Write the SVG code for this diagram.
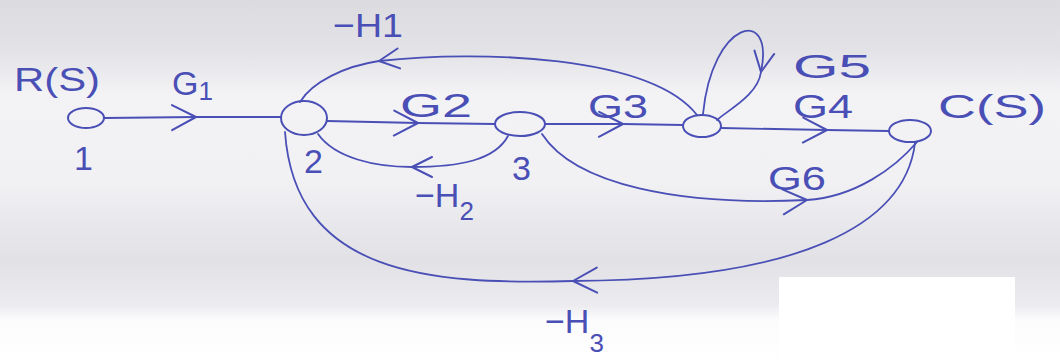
<svg xmlns="http://www.w3.org/2000/svg" width="1060" height="363" viewBox="0 0 1060 363">
  <defs>
    <linearGradient id="paper" x1="0" y1="0" x2="0" y2="1">
      <stop offset="0" stop-color="#dcdce0"/>
      <stop offset="0.14" stop-color="#e3e3e7"/>
      <stop offset="0.26" stop-color="#f3f3f6"/>
      <stop offset="0.5" stop-color="#f1f1f4"/>
      <stop offset="0.62" stop-color="#e8e8ec"/>
      <stop offset="0.72" stop-color="#e2e2e6"/>
      <stop offset="0.84" stop-color="#ececf0"/>
      <stop offset="0.88" stop-color="#fbfbfc"/>
      <stop offset="1" stop-color="#ffffff"/>
    </linearGradient>
    <marker id="chev" markerUnits="userSpaceOnUse" markerWidth="32" markerHeight="34" viewBox="-28 -17 32 34" refX="0" refY="0" orient="auto">
      <path d="M-24,-12 L0,0 L-24,13" fill="none" stroke="#4a4fb6" stroke-width="2" stroke-linecap="round" stroke-linejoin="round"/>
    </marker>
    <marker id="chevs" markerUnits="userSpaceOnUse" markerWidth="28" markerHeight="28" viewBox="-24 -14 28 28" refX="0" refY="0" orient="auto">
      <path d="M-20,-10 L0,0 L-20,10" fill="none" stroke="#4a4fb6" stroke-width="2" stroke-linecap="round" stroke-linejoin="round"/>
    </marker>
  </defs>
  <style>
    .node { fill: none; stroke: #4a4fb6; stroke-width: 2; }
    .edge { fill: none; stroke: #4a4fb6; stroke-width: 1.8; stroke-linecap: round; marker-mid: url(#chev); }
    .edge.small { marker-mid: url(#chevs); }
    .lbl { font-family: "Liberation Sans", Arial, sans-serif; fill: #4a4fb6; font-size: 34px; }
    .sub { font-size: 26px; }
  </style>

  <rect x="0" y="0" width="1060" height="363" fill="url(#paper)"/>
  <rect x="779" y="277" width="236" height="86" fill="#ffffff"/>

  <g id="connectors">
    <path id="e-G1" class="edge" d="M104,118 L196,117 L281,117"/>
    <path id="e-G2" class="edge" d="M327,121 L418,123 L495,124"/>
    <path id="e-G3" class="edge" d="M545,124 L623,124 L683,125"/>
    <path id="e-G4" class="edge" d="M721,128 L827,130 L889,131"/>
    <path id="e-H1" class="edge small" d="M697,115 C650,55 480,50 379,61 C345,66 312,82 300,102"/>
    <path id="e-H2" class="edge small" d="M508,136 C495,160 460,167 412,167 C375,167 335,158 318,134"/>
    <path id="e-G6" class="edge" d="M542,134 C575,185 680,206 807,200 C855,197 895,168 917,142"/>
    <path id="e-H3" class="edge" d="M915,143 C905,225 800,280 573,281 C430,285 295,275 285,132"/>
    <path id="e-G5" class="edge small" d="M703,114 C712,20 775,5 761,72 C758,95 728,110 717,120"/>
  </g>

  <g id="node1">
    <ellipse class="node" cx="86" cy="118" rx="18" ry="10"/>
    <text class="lbl" x="14" y="91" textLength="86" lengthAdjust="spacingAndGlyphs">R(S)</text>
    <text class="lbl" x="74" y="170">1</text>
  </g>
  <g id="node2">
    <ellipse class="node" cx="304" cy="118" rx="23" ry="17"/>
    <text class="lbl" x="304" y="173">2</text>
  </g>
  <g id="node3">
    <ellipse class="node" cx="520" cy="124" rx="25" ry="12"/>
    <text class="lbl" x="512" y="180">3</text>
  </g>
  <g id="node4">
    <ellipse class="node" cx="702" cy="126" rx="19" ry="11"/>
  </g>
  <g id="node5">
    <ellipse class="node" cx="910" cy="131" rx="21" ry="11"/>
    <text class="lbl" x="938" y="118" textLength="108" lengthAdjust="spacingAndGlyphs">C(S)</text>
  </g>

  <g id="labels">
    <text class="lbl" x="172" y="95">G<tspan class="sub" dy="5">1</tspan></text>
    <text class="lbl" x="400" y="117" textLength="72" lengthAdjust="spacingAndGlyphs">G2</text>
    <text class="lbl" x="588" y="118" textLength="60" lengthAdjust="spacingAndGlyphs">G3</text>
    <text class="lbl" x="793" y="118" textLength="60" lengthAdjust="spacingAndGlyphs">G4</text>
    <text class="lbl" x="793" y="78" textLength="78" lengthAdjust="spacingAndGlyphs">G5</text>
    <text class="lbl" x="768" y="190" textLength="58" lengthAdjust="spacingAndGlyphs">G6</text>
    <text class="lbl" x="333" y="37" font-size="30" textLength="70" lengthAdjust="spacingAndGlyphs">−H1</text>
    <text class="lbl" x="415" y="207" font-size="30">−H<tspan class="sub" dy="13">2</tspan></text>
    <text class="lbl" x="545" y="333" font-size="30">−H<tspan class="sub" dy="19">3</tspan></text>
  </g>
</svg>
